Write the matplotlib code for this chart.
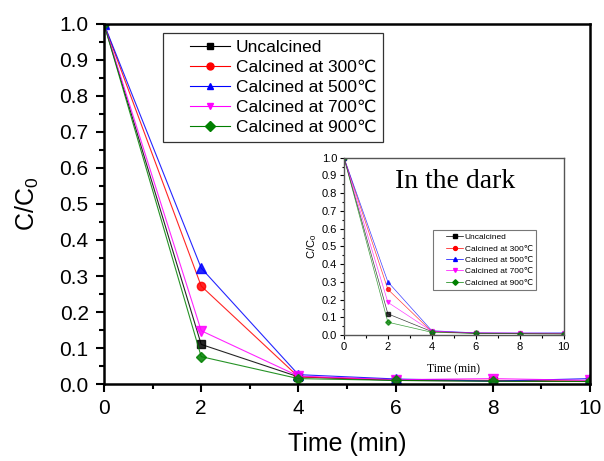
import matplotlib

matplotlib.use("Agg")
import matplotlib.pyplot as plt
from matplotlib.legend_handler import HandlerLine2D
from matplotlib.lines import Line2D
from matplotlib.ticker import MultipleLocator

plt.rcParams["font.family"] = ["Liberation Sans", "DejaVu Sans"]
plt.rcParams["mathtext.fontset"] = "custom"
plt.rcParams["mathtext.rm"] = "Liberation Sans"
plt.rcParams["mathtext.it"] = "Liberation Sans:italic"
SERIF = ["Liberation Serif", "DejaVu Serif"]

time_min = [0, 2, 4, 6, 8, 10]
labels = ["Uncalcined", "Calcined at 300\u2103", "Calcined at 500\u2103",
          "Calcined at 700\u2103", "Calcined at 900\u2103"]
colors = ["#000000", "#ff0000", "#0000ff", "#ff00ff", "#008000"]
markers = ["s", "o", "^", "v", "D"]

# light irradiation (main plot)
light_uncalcined = [1.0, 0.110, 0.020, 0.010, 0.008, 0.007]
light_300 = [1.0, 0.272, 0.020, 0.012, 0.010, 0.008]
light_500 = [1.0, 0.322, 0.026, 0.014, 0.008, 0.015]
light_700 = [1.0, 0.148, 0.022, 0.012, 0.015, 0.010]
light_900 = [1.0, 0.076, 0.015, 0.010, 0.008, 0.007]

# in the dark (inset)
dark_uncalcined = [1.0, 0.120, 0.020, 0.010, 0.008, 0.007]
dark_300 = [1.0, 0.258, 0.020, 0.012, 0.010, 0.008]
dark_500 = [1.0, 0.300, 0.025, 0.013, 0.012, 0.013]
dark_700 = [1.0, 0.185, 0.022, 0.012, 0.012, 0.010]
dark_900 = [1.0, 0.073, 0.016, 0.010, 0.008, 0.007]

light = [light_uncalcined, light_300, light_500, light_700, light_900]
dark = [dark_uncalcined, dark_300, dark_500, dark_700, dark_900]

main_ms = {"s": 5.5, "o": 6, "^": 6.5, "v": 6.5, "D": 5}


def style_axes(ax, labelsize, width, major, minor, pad):
    ax.set_xlim(0, 10)
    ax.set_ylim(0, 1.0)
    ax.xaxis.set_major_locator(MultipleLocator(2))
    ax.xaxis.set_minor_locator(MultipleLocator(1))
    ax.yaxis.set_major_locator(MultipleLocator(0.1))
    ax.yaxis.set_minor_locator(MultipleLocator(0.05))
    ax.yaxis.set_major_formatter(plt.FormatStrFormatter("%.1f"))
    ax.tick_params(which="both", direction="out", top=False, right=False,
                   labelsize=labelsize, width=width, pad=pad)
    ax.tick_params(which="major", length=major)
    ax.tick_params(which="minor", length=minor)


fig = plt.figure(figsize=(6.04, 4.61), dpi=100)
ax = fig.add_axes([0.1722, 0.167, 0.8046, 0.781])
for ys, c, m, lab in zip(light, colors, markers, labels):
    ax.plot(time_min, ys, color=c, lw=0.8, marker=m, ms=main_ms[m], mec=c,
            mfc=c, label=lab, alpha=0.85)
style_axes(ax, 15, 1.5, 6, 3.5, 5)
for s in ax.spines.values():
    s.set_linewidth(1.8)
ax.set_xlabel("Time (min)", fontsize=18, labelpad=10)
ax.set_ylabel("C/C$_0$", fontsize=18, labelpad=13)

handles = [Line2D([], [], color=c, lw=0.8, marker=m, ms=5, mec=c, mfc=c)
           for c, m in zip(colors, markers)]
leg = ax.legend(handles, labels, loc="upper left", bbox_to_anchor=(0.121, 0.975),
                borderaxespad=0, fontsize=12.5, fancybox=False,
                edgecolor="#333333", framealpha=1, handlelength=3.45,
                borderpad=0.4, labelspacing=0.28, handletextpad=0.35,
                handler_map={Line2D: HandlerLine2D(xpad=1.15)})
leg.get_frame().set_linewidth(0.9)

ins = fig.add_axes([0.5695, 0.273, 0.3635, 0.385])
for ys, c, m, lab in zip(dark, colors, markers, labels):
    ins.plot(time_min, ys, color=c, lw=0.5, marker=m, ms=2.8, mec=c, mfc=c,
             label=lab, alpha=0.75)
style_axes(ins, 8, 0.8, 3, 1.8, 2)
for s in ins.spines.values():
    s.set_linewidth(1.0)
    s.set_color("#555555")
ins.set_xlabel("Time (min)", fontsize=8.5, family=SERIF, labelpad=8)
ins.set_ylabel("C/C$_0$", fontsize=8, labelpad=2)
ins.text(0.507, 0.865, "In the dark", transform=ins.transAxes, fontsize=20,
         family=SERIF, ha="center", va="center")
ihandles = [Line2D([], [], color=c, lw=0.5, marker=m, ms=2.8, mec=c, mfc=c)
            for c, m in zip(colors, markers)]
il = ins.legend(ihandles, labels, loc="upper left", bbox_to_anchor=(0.405, 0.592),
                borderaxespad=0, fontsize=6, fancybox=False,
                edgecolor="#777777", framealpha=1, handlelength=3.2,
                borderpad=0.4, labelspacing=0.42, handletextpad=0.2,
                handler_map={Line2D: HandlerLine2D(xpad=1.2)})
il.get_frame().set_linewidth(0.8)

fig.savefig("out.png", dpi=100)
